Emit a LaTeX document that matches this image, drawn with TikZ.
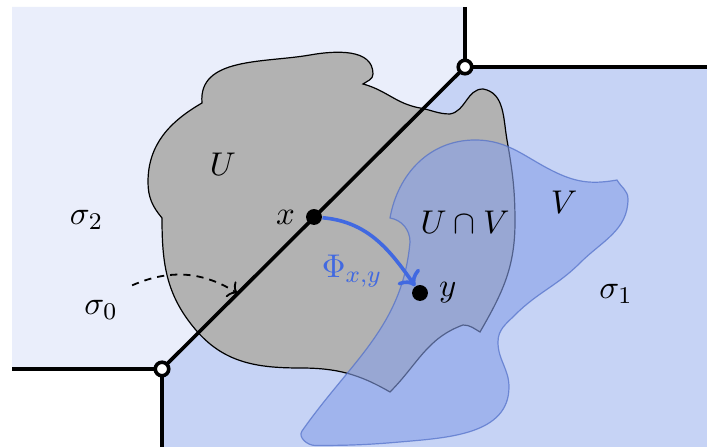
\documentclass[tikz,border=0pt]{standalone}
\usepackage{amsmath,amssymb}
\usetikzlibrary{arrows.meta,calc,positioning}

\definecolor{lightcell}{RGB}{234,238,251}
\definecolor{midcell}{RGB}{198,211,245}
\definecolor{vblue}{RGB}{135,160,233}
\definecolor{vedge}{RGB}{80,110,200}
\definecolor{phiblue}{RGB}{65,105,225}

\begin{document}
\begin{tikzpicture}[x=1.1713mm,y=1.1713mm,
  every node/.style={font=\fontsize{11}{13}\selectfont},
  wall/.style={line width=1.2pt},
  vertex/.style={circle,draw,line width=1.2pt,fill=white,inner sep=0pt,minimum size=4.5pt},
  pt/.style={circle,fill=black,inner sep=0pt,minimum size=5.3pt},
  uset/.style={fill=black!30,draw=black,line width=0.4pt},
  vset/.style={fill=vblue,draw=vedge,fill opacity=0.6,draw opacity=0.7,line width=0.4pt}]
  \useasboundingbox (0,0) rectangle (70.7,44.7);
  \coordinate (ptop) at (46.5,38.0);
  \coordinate (pbot) at (16.2,7.8);
  % the cells
  \fill[lightcell] (1.2,44.0) -- (46.5,44.0) -- (ptop) -- (pbot) -- (1.2,7.8) -- cycle;
  \fill[midcell] (pbot) -- (ptop) -- (70.7,38.0) -- (70.7,0) -- (16.2,0) -- cycle;
  % the set U
  \filldraw[uset] (20.2,34.4) to[out=95,in=190] (31.0,39.2) to[out=10,in=90] (37.3,37.3)
    to[out=-90,in=35] (36.3,36.3) to[out=-15,in=170] (42.0,33.9) to[out=-10,in=180] (45.0,33.3)
    to[out=10,in=180] (48.3,35.8) to[out=-10,in=100] (50.7,30.7) to[out=-80,in=90] (51.5,22.5)
    to[out=-90,in=60] (48.0,11.5) to[out=150,in=0] (46.3,12.2) to[out=200,in=45] (39.0,5.5)
    to[out=150,in=0] (30.0,7.9) to[out=180,in=-50] (19.5,11.8) to[out=130,in=-90] (16.2,22.9)
    to[out=130,in=-90] (14.8,26.5) to[out=90,in=-150] (20.2,34.4) -- cycle;
  % the set V
  \filldraw[vset] (39.0,22.9) to[out=-10,in=90] (41.0,20.5) to[out=-95,in=55] (30.2,1.6)
    to[out=-125,in=180] (31.5,0.15) to[out=0,in=185] (40.0,0.5) to[out=5,in=-90] (50.9,6.0)
    to[out=90,in=-90] (49.8,10.5) to[out=90,in=-135] (51.5,13.2) to[out=45,in=-135] (58.0,18.4)
    to[out=45,in=-90] (62.8,24.8) to[out=90,in=-60] (61.7,26.7) to[out=190,in=-25] (55.7,27.4)
    to[out=155,in=0] (47.5,30.7) to[out=180,in=80] (39.0,22.9) -- cycle;
  % walls
  \draw[wall] (46.5,44.0) -- (ptop) -- (70.7,38.0);
  \draw[wall] (ptop) -- (pbot);
  \draw[wall] (1.2,7.8) -- (pbot) -- (16.2,0);
  \foreach \p in {ptop,pbot} \node[vertex] (v\p) at (\p) {};
  % points and labels
  \node[pt] (xp) at (31.4,23.0) {};
  \node[pt] (yp) at (42.0,15.4) {};
  \node[left=0pt of xp] (xl) {$x$};
  \node[right=0pt of yp] (yl) {$y$};
  \node (ul) at (22.3,28.3) {$U$};
  \node (vl) at (56.4,24.5) {$V$};
  \node (uvl) at (46.5,22.5) {$U\cap V$};
  \node (s2) at (8.65,22.75) {$\sigma_2$};
  \node (s0) at (10.1,13.75) {$\sigma_0$};
  \node (s1) at (61.6,15.3) {$\sigma_1$};
  \node[phiblue] (phil) at (35.2,17.6) {$\Phi_{x,y}$};
  \coordinate (L) at ($(pbot)!0.25!(ptop)$);
  \draw[->,line width=0.6pt,dash pattern=on 2.4pt off 2pt] ([shift={(0.4,0.4)}]s0.north east) to[bend left=28] (L);
  \draw[->,very thick,phiblue] (xp) to[out=-5,in=125] (yp);
\end{tikzpicture}
\end{document}
